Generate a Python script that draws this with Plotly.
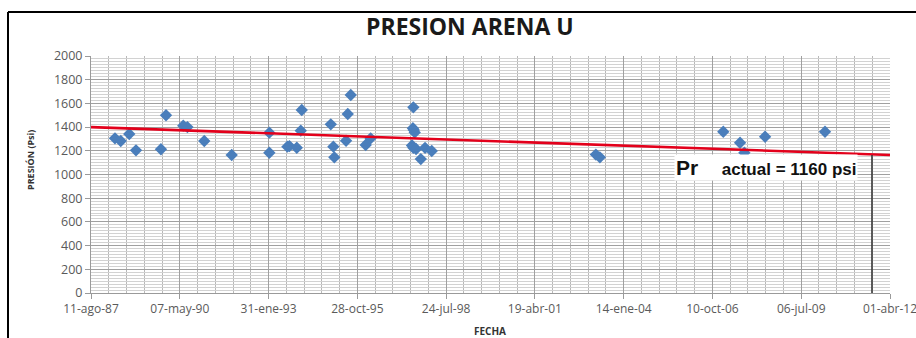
import plotly.graph_objects as go

# ---------------- data ----------------
fechas = [
    "1988-05-07", "1988-07-11", "1988-10-15", "1988-12-30", "1989-10-07",
    "1989-12-03", "1990-06-15", "1990-08-01", "1991-02-07", "1991-12-13",
    "1993-02-09", "1993-02-09", "1993-08-31", "1993-09-23", "1993-12-15",
    "1994-02-09", "1994-01-29", "1995-01-02", "1995-01-31", "1995-02-11",
    "1995-08-15", "1995-07-12", "1995-06-23", "1996-01-30", "1996-03-26",
    "1997-07-20", "1997-07-15", "1997-07-25", "1997-08-05", "1997-07-05",
    "1997-07-20", "1997-08-20", "1997-10-12", "1997-11-29", "1998-02-12",
    "2003-03-07", "2003-04-21", "2007-02-09", "2007-08-17", "2007-10-05",
    "2008-05-25", "2010-03-31",
]
presion = [
    1305, 1283, 1342, 1204, 1213,
    1500, 1412, 1400, 1283, 1165,
    1184, 1353, 1235, 1240, 1226,
    1544, 1370, 1423, 1235, 1145,
    1671, 1511, 1285, 1249, 1305,
    1567, 1390, 1375, 1355, 1245,
    1225, 1215, 1130, 1225, 1198,
    1168, 1145, 1361, 1268, 1184,
    1319, 1361,
]

tendencia_fechas = ["1987-08-11", "2012-04-01"]
tendencia_valores = [1400, 1165]

actual_fecha = "2011-09-11"
actual_valor = 1165

tick_fechas = ["1987-08-11", "1990-05-07", "1993-01-31", "1995-10-28", "1998-07-24",
               "2001-04-19", "2004-01-14", "2006-10-10", "2009-07-06", "2012-04-01"]
tick_textos = ["11-ago-87", "07-may-90", "31-ene-93", "28-oct-95", "24-jul-98",
               "19-abr-01", "14-ene-04", "10-oct-06", "06-jul-09", "01-abr-12"]

# ---------------- figure ----------------
W, H = 916, 338
L, R, T, B = 91, 26, 56, 45
pw, ph = W - L - R, H - T - B


def px(x):
    return (x - L) / pw


def py(y):
    return (H - B - y) / ph


DAY = 86400000

fig = go.Figure()

fig.add_trace(go.Scatter(
    x=fechas, y=presion, mode="markers",
    marker=dict(symbol="diamond", size=9.5, color="#4A7EBB",
                line=dict(width=0)),
    showlegend=False, hoverinfo="x+y",
))

fig.add_trace(go.Scatter(
    x=tendencia_fechas, y=tendencia_valores, mode="lines",
    line=dict(color="#E3001B", width=2.6),
    showlegend=False, hoverinfo="skip",
))

fig.add_trace(go.Scatter(
    x=[actual_fecha, actual_fecha], y=[actual_valor, 0], mode="lines",
    line=dict(color="#3A3A3A", width=1.6),
    showlegend=False, hoverinfo="skip",
))

fig.update_layout(
    width=W, height=H,
    margin=dict(l=L, r=R, t=T, b=B, autoexpand=False),
    paper_bgcolor="white", plot_bgcolor="white",
    font=dict(family="Open Sans", color="#5A5A5A"),
    showlegend=False,
)

fig.update_xaxes(
    type="date",
    range=["1987-08-11", "2012-04-01"],
    automargin=False,
    tickmode="array", tickvals=tick_fechas, ticktext=tick_textos,
    tickfont=dict(size=12, color="#5A5A5A"),
    ticklabeloverflow="allow",
    ticks="outside", ticklen=5, tickcolor="#9A9A9A",
    showgrid=True, gridcolor="#A0A0A0", gridwidth=1,
    minor=dict(tickmode="linear", tick0="1987-08-11", dtick=200 * DAY,
               showgrid=True, gridcolor="#B8B8B8", gridwidth=1, ticks=""),
    showline=True, linecolor="#9A9A9A", linewidth=1,
    zeroline=False,
)

fig.update_yaxes(
    range=[0, 2000],
    automargin=False,
    tickmode="linear", tick0=0, dtick=200,
    tickfont=dict(size=12.5, color="#5A5A5A"),
    ticks="outside", ticklen=5, tickcolor="#9A9A9A",
    showgrid=True, gridcolor="#A0A0A0", gridwidth=1,
    minor=dict(tickmode="linear", tick0=0, dtick=25,
               showgrid=True, gridcolor="#D2D2D2", gridwidth=1, ticks=""),
    showline=True, linecolor="#9A9A9A", linewidth=1,
    zeroline=False,
)

# chart frame (top and left border)
fig.add_shape(type="line", xref="paper", yref="paper",
              x0=px(8), x1=px(W + 5), y0=py(12), y1=py(12),
              line=dict(color="black", width=2))
fig.add_shape(type="line", xref="paper", yref="paper",
              x0=px(8), x1=px(8), y0=py(12), y1=py(H + 5),
              line=dict(color="black", width=2))

# title
fig.add_annotation(text="<b>PRESION ARENA U</b>", xref="paper", yref="paper",
                   x=px(470), y=py(26), xanchor="center", yanchor="middle",
                   showarrow=False,
                   font=dict(family="Open Sans", size=23, color="#1A1A1A"))

# axis titles
fig.add_annotation(text="<b>PRESIÓN (Psi)</b>", xref="paper", yref="paper",
                   x=px(30), y=py(160), xanchor="center", yanchor="middle",
                   showarrow=False, textangle=-90,
                   font=dict(family="Open Sans", size=9, color="#333333"))
fig.add_annotation(text="<b>FECHA</b>", xref="paper", yref="paper",
                   x=px(490), y=py(331), xanchor="center", yanchor="middle",
                   showarrow=False,
                   font=dict(family="Open Sans", size=10, color="#333333"))

# current pressure label
fig.add_annotation(
    text="<b><span style='font-size:21px'>Pr</span>&nbsp;&nbsp;&nbsp;&nbsp;&nbsp;actual = 1160 psi</b>",
    xref="paper", yref="paper", x=px(674), y=py(167),
    xanchor="left", yanchor="middle", showarrow=False,
    bgcolor="white", borderpad=1,
    font=dict(family="Liberation Sans", size=17, color="#111111"),
)

fig.write_html("out.html", config={"displayModeBar": False},
               post_script="document.body.style.margin='0';")
